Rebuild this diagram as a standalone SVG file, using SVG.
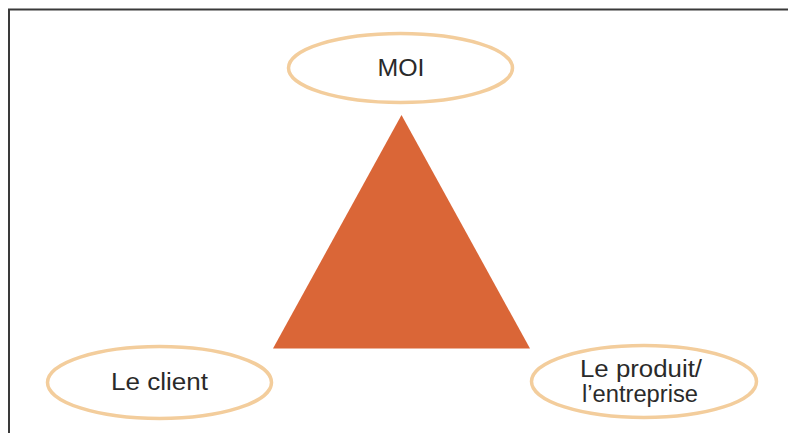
<svg xmlns="http://www.w3.org/2000/svg" width="788" height="433" viewBox="0 0 788 433">
  <style>
    .frame { fill: none; stroke: #3a3a3a; stroke-width: 2; }
    .bubble { fill: #ffffff; stroke: #F3CD9C; stroke-width: 3.5; }
    .label { font-family: "Liberation Sans", Arial, sans-serif; font-size: 23px; fill: #2a2a2a; text-anchor: middle; }
  </style>
  <rect width="788" height="433" fill="#ffffff"/>
  <!-- slide frame: top and left edges -->
  <path class="frame" d="M9 433 V9.5 H788"/>

  <g id="pyramid">
    <polygon points="401.5,115 273,348.5 530,348.5" fill="#DA6637"/>
  </g>

  <g id="moi">
    <ellipse class="bubble" cx="400.5" cy="68" rx="112" ry="34.5"/>
    <text class="label" x="401" y="76" textLength="47" lengthAdjust="spacingAndGlyphs">MOI</text>
  </g>

  <g id="client">
    <ellipse class="bubble" cx="159.5" cy="382.5" rx="112" ry="36"/>
    <text class="label" x="159.5" y="390" textLength="97" lengthAdjust="spacingAndGlyphs">Le client</text>
  </g>

  <g id="produit">
    <ellipse class="bubble" cx="644" cy="381.5" rx="112.5" ry="36"/>
    <text class="label" x="641" y="377" textLength="122" lengthAdjust="spacingAndGlyphs">Le produit/</text>
    <text class="label" x="640" y="402" textLength="116" lengthAdjust="spacingAndGlyphs">l’entreprise</text>
  </g>

  <g id="connectors"/>
</svg>
